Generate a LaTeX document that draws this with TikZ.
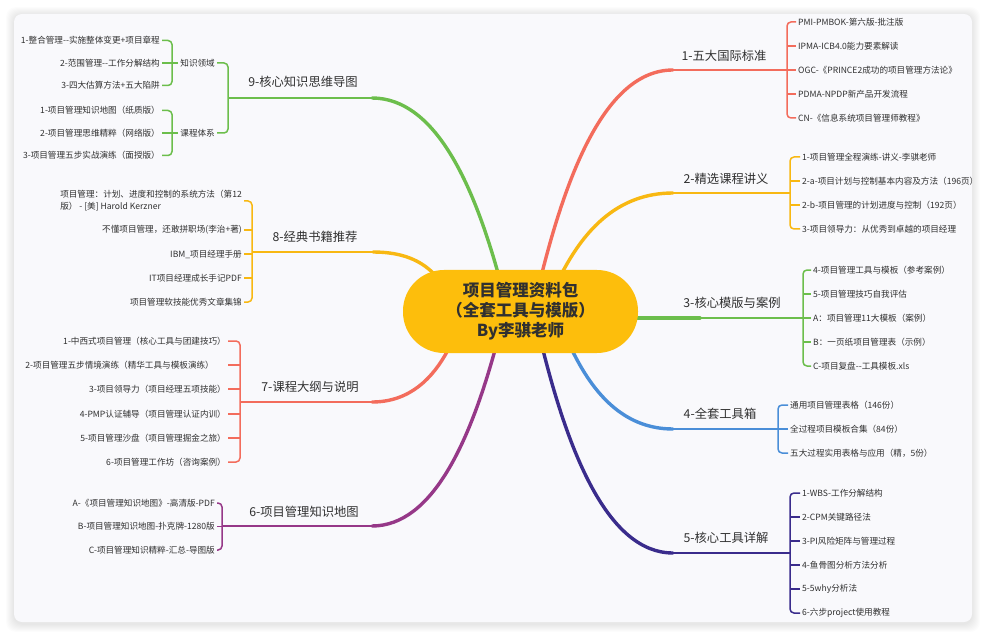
\documentclass[tikz,border=0pt]{standalone}
\usepackage{fontspec}
\setmainfont{Noto Sans CJK SC}
\definecolor{tx}{RGB}{48,48,48}
\definecolor{card}{RGB}{249,249,252}
\definecolor{cRed}{RGB}{243,108,92}
\definecolor{cYel}{RGB}{248,184,18}
\definecolor{cPill}{RGB}{253,190,12}
\definecolor{cGrn}{RGB}{108,190,76}
\definecolor{cBlu}{RGB}{74,142,216}
\definecolor{cInd}{RGB}{58,44,140}
\definecolor{cPur}{RGB}{150,56,136}
\begin{document}
\begin{tikzpicture}[x=1bp,y=-1bp,
  lab/.style={font=\fontsize{12.3bp}{14bp}\selectfont, text=tx, inner sep=0},
  leafR/.style={font=\fontsize{8.6bp}{12bp}\selectfont, text=tx, anchor=west, inner xsep=2bp, inner ysep=0},
  leafL/.style={font=\fontsize{8.6bp}{12bp}\selectfont, text=tx, anchor=east, inner xsep=2bp, inner ysep=0},
  cv/.style={line width=3.4bp, line cap=round},
  hz/.style={line width=2bp},
  br/.style={line width=1.5bp, rounded corners=4bp},
  hubstyle/.style={fill=cPill, rounded corners=41bp, minimum width=235bp, minimum height=83bp,
    align=center, text=tx, font=\fontsize{16.5bp}{20bp}\selectfont\bfseries, inner sep=0}]
\useasboundingbox (0,0) rectangle (987,636);
\fill[white] (0,0) rectangle (987,636);
% card shadow
\foreach \i in {1,...,8}
  \fill[black,opacity=0.013,rounded corners=10bp] (14-\i,15-\i) rectangle (972+\i,624+\i);
\fill[card,rounded corners=8bp] (14,14) rectangle (972,622);

% ---------- branch coordinates ----------
\coordinate (s1) at (542,273); \coordinate (h1) at (673,70);  \coordinate (e1) at (787,70);
\coordinate (s2) at (562,273); \coordinate (h2) at (673,193); \coordinate (e2) at (790,193);
\coordinate (s3) at (630,318); \coordinate (e3) at (803,318);
\coordinate (s4) at (572,350); \coordinate (h4) at (673,429); \coordinate (e4) at (778,429);
\coordinate (s5) at (543,350); \coordinate (h5) at (673,553); \coordinate (e5) at (790,553);
\coordinate (s9) at (498,273); \coordinate (h9) at (372,98);  \coordinate (e9) at (228,98);
\coordinate (s8) at (433,273); \coordinate (h8) at (373,252); \coordinate (e8) at (252,252);
\coordinate (s7) at (448,350); \coordinate (h7) at (372,402); \coordinate (e7) at (240,402);
\coordinate (s6) at (495,350); \coordinate (h6) at (372,526); \coordinate (e6) at (222,526);
\coordinate (f1) at (172,63);  \coordinate (f2) at (172,133);

% ---------- main branches ----------
\draw[cv,cRed] (s1) .. controls (568,170) and (607,70) .. (h1);
\draw[hz,cRed] (h1) -- (e1);
\draw[cv,cYel] (s2) .. controls (584,231) and (617,193) .. (h2);
\draw[hz,cYel] (h2) -- (e2);
\draw[cv,cGrn] (s3) -- (700,318);
\draw[hz,cGrn] (700,318) -- (e3);
\draw[cv,cBlu] (s4) .. controls (592,391) and (622,429) .. (h4);
\draw[hz,cBlu] (h4) -- (e4);
\draw[cv,cInd] (s5) .. controls (569,453) and (608,553) .. (h5);
\draw[hz,cInd] (h5) -- (e5);
\draw[cv,cGrn] (s9) .. controls (473,184) and (435,98) .. (h9);
\draw[hz,cGrn] (h9) -- (e9);
\draw[cv,cYel] (s8) .. controls (421,261) and (403,252) .. (h8);
\draw[hz,cYel] (h8) -- (e8);
\draw[cv,cRed] (s7) .. controls (433,378) and (410,402) .. (h7);
\draw[hz,cRed] (h7) -- (e7);
\draw[cv,cPur] (s6) .. controls (470,440) and (433,526) .. (h6);
\draw[hz,cPur] (h6) -- (e6);

% ---------- hub ----------
\node[hubstyle] (hub) at (520.5,311.5) {项目管理资料包\\（全套工具与模版）\\By李骐老师};

% ---------- branch labels ----------
\node[lab] (l1) at (724,56)  {1-五大国际标准};
\node[lab] (l2) at (726,179) {2-精选课程讲义};
\node[lab] (l3) at (732,303) {3-核心模版与案例};
\node[lab] (l4) at (720,414) {4-全套工具箱};
\node[lab] (l5) at (726,538) {5-核心工具详解};
\node[lab] (l9) at (303,82)  {9-核心知识思维导图};
\node[lab] (l8) at (315,237) {8-经典书籍推荐};
\node[lab] (l7) at (310,387) {7-课程大纲与说明};
\node[lab] (l6) at (304,512) {6-项目管理知识地图};

% ---------- leaves: branch 1 ----------
\node[leafR] (a11) at (796,22)  {PMI-PMBOK-第六版-批注版};
\node[leafR] (a12) at (796,46)  {IPMA-ICB4.0能力要素解读};
\node[leafR] (a13) at (796,70)  {OGC-《PRINCE2成功的项目管理方法论》};
\node[leafR] (a14) at (796,94)  {PDMA-NPDP新产品开发流程};
\node[leafR] (a15) at (796,118) {CN-《信息系统项目管理师教程》};
\draw[br,cRed] (a11.west) -- (a11.west -| e1) -- (a15.west -| e1) -- (a15.west);
\foreach \n in {a12,a13,a14} \draw[br,cRed] (e1 |- \n.west) -- (\n.west);

% ---------- branch 2 ----------
\node[leafR] (a21) at (800,157) {1-项目管理全程演练-讲义-李骐老师};
\node[leafR] (a22) at (800,181) {2-a-项目计划与控制基本内容及方法（196页）};
\node[leafR] (a23) at (800,205) {2-b-项目管理的计划进度与控制（192页）};
\node[leafR] (a24) at (800,229) {3-项目领导力：从优秀到卓越的项目经理};
\draw[br,cYel] (a21.west) -- (a21.west -| e2) -- (a24.west -| e2) -- (a24.west);
\foreach \n in {a22,a23} \draw[br,cYel] (e2 |- \n.west) -- (\n.west);

% ---------- branch 3 ----------
\node[leafR] (a31) at (811,270) {4-项目管理工具与模板（参考案例）};
\node[leafR] (a32) at (811,294) {5-项目管理技巧自我评估};
\node[leafR] (a33) at (811,318) {A：项目管理11大模板（案例）};
\node[leafR] (a34) at (811,342) {B：一页纸项目管理表（示例）};
\node[leafR] (a35) at (811,366) {C-项目复盘-{}-工具模板.xls};
\draw[br,cGrn] (a31.west) -- (a31.west -| e3) -- (a35.west -| e3) -- (a35.west);
\foreach \n in {a32,a33,a34} \draw[br,cGrn] (e3 |- \n.west) -- (\n.west);

% ---------- branch 4 ----------
\node[leafR] (a41) at (788,405) {通用项目管理表格（146份）};
\node[leafR] (a42) at (788,429) {全过程项目模板合集（84份）};
\node[leafR] (a43) at (788,453) {五大过程实用表格与应用（精，5份）};
\draw[br,cBlu] (a41.west) -- (a41.west -| e4) -- (a43.west -| e4) -- (a43.west);
\draw[br,cBlu] (e4 |- a42.west) -- (a42.west);

% ---------- branch 5 ----------
\node[leafR] (a51) at (800,493) {1-WBS-工作分解结构};
\node[leafR] (a52) at (800,517) {2-CPM关键路径法};
\node[leafR] (a53) at (800,541) {3-PI风险矩阵与管理过程};
\node[leafR] (a54) at (800,565) {4-鱼骨图分析方法分析};
\node[leafR] (a55) at (800,589) {5-5why分析法};
\node[leafR] (a56) at (800,613) {6-六步project使用教程};
\draw[br,cInd] (a51.west) -- (a51.west -| e5) -- (a56.west -| e5) -- (a56.west);
\foreach \n in {a52,a53,a54,a55} \draw[br,cInd] (e5 |- \n.west) -- (\n.west);

% ---------- branch 9 ----------
\node[leafL] (k1) at (217,63)  {知识领域};
\node[leafL] (k2) at (217,133) {课程体系};
\draw[br,cGrn] (k1.east) -- (k1.east -| e9) -- (k2.east -| e9) -- (k2.east);
\draw[br,cGrn] (k1.west) -- (f1);
\draw[br,cGrn] (k2.west) -- (f2);
\node[leafL] (k11) at (162,40.5)  {1-整合管理-{}-实施整体变更+项目章程};
\node[leafL] (k12) at (162,63)    {2-范围管理-{}-工作分解结构};
\node[leafL] (k13) at (162,85.5)  {3-四大估算方法+五大陷阱};
\draw[br,cGrn] (k11.east) -- (k11.east -| f1) -- (k13.east -| f1) -- (k13.east);
\draw[br,cGrn] (f1 |- k12.east) -- (k12.east);
\node[leafL] (k21) at (162,110.5) {1-项目管理知识地图（纸质版）};
\node[leafL] (k22) at (162,133)   {2-项目管理思维精粹（网络版）};
\node[leafL] (k23) at (162,155.5) {3-项目管理五步实战演练（面授版）};
\draw[br,cGrn] (k21.east) -- (k21.east -| f2) -- (k23.east -| f2) -- (k23.east);
\draw[br,cGrn] (f2 |- k22.east) -- (k22.east);

% ---------- branch 8 ----------
\node[leafL,align=left] (b81) at (244,201) {项目管理：计划、进度和控制的系统方法（第12\\版） - [美] Harold Kerzner};
\node[leafL] (b82) at (244,230) {不懂项目管理，还敢拼职场(李治+著)};
\node[leafL] (b83) at (244,254) {IBM\_项目经理手册};
\node[leafL] (b84) at (244,278) {IT项目经理成长手记PDF};
\node[leafL] (b85) at (244,302) {项目管理软技能优秀文章集锦};
\draw[br,cYel] (b81.east) -- (b81.east -| e8) -- (b85.east -| e8) -- (b85.east);
\foreach \n in {b82,b83,b84} \draw[br,cYel] (e8 |- \n.east) -- (\n.east);

% ---------- branch 7 ----------
\node[leafL] (b71) at (228,341) {1-中西式项目管理（核心工具与团建技巧）};
\node[leafL] (b72) at (216,365) {2-项目管理五步情境演练（精华工具与模板演练）};
\node[leafL] (b73) at (228,389) {3-项目领导力（项目经理五项技能）};
\node[leafL] (b74) at (228,414) {4-PMP认证辅导（项目管理认证内训）};
\node[leafL] (b75) at (228,438) {5-项目管理沙盘（项目管理掘金之旅）};
\node[leafL] (b76) at (228,462) {6-项目管理工作坊（咨询案例）};
\draw[br,cRed] (b71.east) -- (b71.east -| e7) -- (b76.east -| e7) -- (b76.east);
\foreach \n in {b73,b74,b75} \draw[br,cRed] (e7 |- \n.east) -- (\n.east);
\draw[br,cRed] (e7 |- b72.east) -- ++(-12,0);

% ---------- branch 6 ----------
\node[leafL] (b61) at (217,503)   {A-《项目管理知识地图》-高清版-PDF};
\node[leafL] (b62) at (217,526.5) {B-项目管理知识地图-扑克牌-1280版};
\node[leafL] (b63) at (217,550)   {C-项目管理知识精粹-汇总-导图版};
\draw[br,cPur] (b61.east) -- (b61.east -| e6) -- (b63.east -| e6) -- (b63.east);
\draw[br,cPur] (e6 |- b62.east) -- (b62.east);
\end{tikzpicture}
\end{document}
